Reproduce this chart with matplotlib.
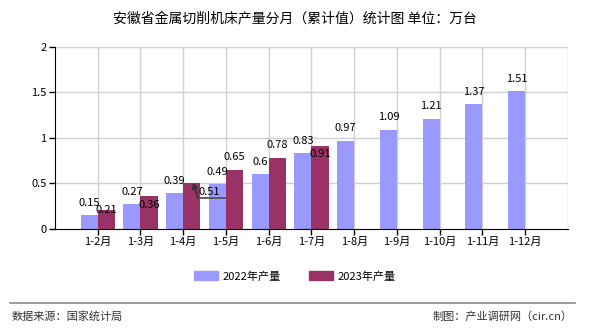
import matplotlib
matplotlib.use('Agg')
import matplotlib.pyplot as plt
from matplotlib.patches import Patch
from matplotlib.lines import Line2D

plt.rcParams['font.family'] = ['Noto Sans CJK SC', 'DejaVu Sans']

months = ['1-2月', '1-3月', '1-4月', '1-5月', '1-6月', '1-7月', '1-8月',
          '1-9月', '1-10月', '1-11月', '1-12月']
v2022 = [0.15, 0.27, 0.39, 0.49, 0.6, 0.83, 0.97, 1.09, 1.21, 1.37, 1.51]
v2023 = [0.21, 0.36, 0.51, 0.65, 0.78, 0.91]
lab2022 = ['0.15', '0.27', '0.39', '0.49', '0.6', '0.83', '0.97', '1.09', '1.21', '1.37', '1.51']
lab2023 = ['0.21', '0.36', '0.51', '0.65', '0.78', '0.91']
# vertical offsets (points) of the 2023 labels relative to bar top
off2023 = [0, -6, 0, 9, 9, -6]

c22 = '#9999ff'
c23 = '#993366'

fig = plt.figure(figsize=(5.9, 3.3), dpi=100)
ax = fig.add_axes([0.0932, 0.306, 0.8695, 0.5525])

x = list(range(1, len(months) + 1))
w = 0.4
ax.bar([i - w / 2 for i in x], v2022, w, color=c22, zorder=2)
ax.bar([i + w / 2 for i in x[:len(v2023)]], v2023, w, color=c23, zorder=2)

for i, v, s in zip(x, v2022, lab2022):
    ax.annotate(s, (i - w / 2, v), xytext=(0, 9), textcoords='offset points',
                ha='center', va='center', fontsize=8, zorder=3)
for k, (i, v, s) in enumerate(zip(x, v2023, lab2023)):
    if k == 2:
        # label pulled aside, underlined leader line with arrow to bar top
        ax.text(i + 0.36, v - 0.1, s, ha='left', va='center', fontsize=8, zorder=4)
        ax.plot([i + 0.34, i + 0.99], [v - 0.167, v - 0.167], color='#555555', lw=1.3, zorder=4)
        ax.annotate('', (i + 0.23, v), xytext=(i + 0.34, v - 0.167), textcoords='data',
                    arrowprops=dict(arrowstyle='-|>', color='#333333', lw=1.3,
                                    shrinkA=0, shrinkB=0, mutation_scale=8), zorder=4)
    else:
        ax.annotate(s, (i + w / 2, v), xytext=(0, off2023[k]), textcoords='offset points',
                    ha='center', va='center', fontsize=8, zorder=3)

ax.set_xlim(0, 12)
ax.set_ylim(0, 2)
ax.set_xticks(x)
ax.set_xticklabels(months, fontsize=8)
ax.set_yticks([0, 0.5, 1, 1.5, 2])
ax.set_yticklabels(['0', '0.5', '1', '1.5', '2'], fontsize=8)
for xv in x + [12]:
    ax.axvline(xv, color='#d0d0d0', lw=1, zorder=0)
for yv in [0.5, 1, 1.5, 2]:
    ax.axhline(yv, color='#d0d0d0', lw=1, zorder=0)
ax.spines['top'].set_visible(False)
ax.spines['right'].set_visible(False)
ax.spines['left'].set_color('black')
ax.spines['bottom'].set_color('black')
ax.tick_params(axis='both', length=4, width=1, color='black', pad=2)

fig.text(0.5, 0.945, '安徽省金属切削机床产量分月（累计值）统计图 单位：万台',
         ha='center', va='center', fontsize=10)

handles = [Patch(color=c22, label='2022年产量'), Patch(color=c23, label='2023年产量')]
fig.legend(handles=handles, loc='center', bbox_to_anchor=(0.5, 0.163), ncol=2,
           frameon=False, fontsize=8, handlelength=2.2, handleheight=0.9,
           columnspacing=2.5, handletextpad=0.4)

fig.add_artist(Line2D([0.017, 0.975], [0.082, 0.082], color='#888888', lw=1.2))
fig.text(0.02, 0.04, '数据来源：国家统计局', ha='left', va='center', fontsize=8, color='#333333')
fig.text(0.97, 0.04, '制图：产业调研网（cir.cn）', ha='right', va='center', fontsize=8, color='#333333')

fig.savefig('out.png', dpi=100)
